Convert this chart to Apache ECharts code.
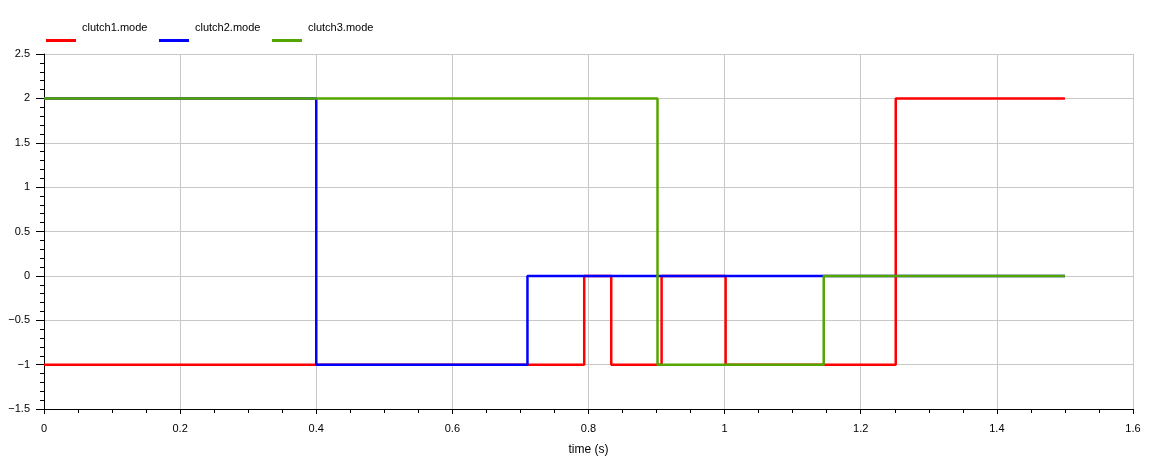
<!DOCTYPE html>
<html>
<head>
<meta charset="utf-8">
<script src="https://cdn.jsdelivr.net/npm/echarts@6/dist/echarts.min.js"></script>
<style>html,body{margin:0;padding:0;background:#fff;}#c{width:1149px;height:464px;}</style>
</head>
<body>
<div id="c"></div>
<script>
var seriesNames = ['clutch1.mode', 'clutch2.mode', 'clutch3.mode'];
var seriesColors = ['#ff0000', '#0000ff', '#55a500'];
var clutch1Time = [0, 0.7937, 0.8334, 0.9074, 1.0015, 1.2514, 1.5];
var clutch1Mode = [-1, 0, -1, 0, -1, 2, 2];
var clutch2Time = [0, 0.4, 0.7103, 1.5];
var clutch2Mode = [2, -1, 0, 0];
var clutch3Time = [0, 0.9014, 1.1456, 1.5];
var clutch3Mode = [2, -1, 0, 0];
var xTickLabels = ['0', '0.2', '0.4', '0.6', '0.8', '1', '1.2', '1.4', '1.6'];
var yTickLabels = ['−1.5', '−1', '−0.5', '0', '0.5', '1', '1.5', '2', '2.5'];

var times = [clutch1Time, clutch2Time, clutch3Time];
var modes = [clutch1Mode, clutch2Mode, clutch3Mode];
var font = '"Liberation Sans", Arial, sans-serif';
var legendLefts = [46, 159, 272];

var chart = echarts.init(document.getElementById('c'));
chart.setOption({
  animation: false,
  backgroundColor: '#fff',
  grid: { left: 44, right: 16, top: 54, bottom: 55 },
  legend: seriesNames.map(function (n, i) {
    return {
      data: [n], left: legendLefts[i], top: 22, icon: 'rect', itemWidth: 30, itemHeight: 3,
      itemGap: 0, padding: 0,
      formatter: function (name) { return '{n|' + name + '}\n{e| }'; },
      textStyle: { fontFamily: font, fontSize: 11, color: '#000',
        rich: { n: { fontFamily: font, fontSize: 11, color: '#000', lineHeight: 13, padding: [0, 0, 0, 1] },
                e: { fontSize: 11, lineHeight: 26 } } }
    };
  }),
  xAxis: {
    type: 'value', min: 0, max: 1.6, interval: 0.2,
    name: 'time (s)', nameLocation: 'middle', nameGap: 35,
    nameTextStyle: { fontFamily: font, fontSize: 12, color: '#000' },
    axisLine: { onZero: false, lineStyle: { color: '#000', width: 1 } },
    axisTick: { show: true, length: 5, lineStyle: { color: '#000' } },
    minorTick: { show: true, splitNumber: 4, length: 4, lineStyle: { color: '#000' } },
    axisLabel: { margin: 14, fontFamily: font, fontSize: 11, color: '#000',
      formatter: function (v) { return xTickLabels[Math.round(v / 0.2)]; } },
    splitLine: { show: true, lineStyle: { color: '#c8c8c8', width: 1 } }
  },
  yAxis: {
    type: 'value', min: -1.5, max: 2.5, interval: 0.5,
    axisLine: { show: true, onZero: false, lineStyle: { color: '#000', width: 1 } },
    axisTick: { show: true, length: 8, lineStyle: { color: '#000' } },
    minorTick: { show: true, splitNumber: 5, length: 4, lineStyle: { color: '#000' } },
    axisLabel: { margin: 14, fontFamily: font, fontSize: 11, color: '#000',
      formatter: function (v) { return yTickLabels[Math.round((v + 1.5) / 0.5)]; } },
    splitLine: { show: true, lineStyle: { color: '#c8c8c8', width: 1 } }
  },
  series: seriesNames.map(function (n, i) {
    return {
      name: n, type: 'line', step: 'end', showSymbol: false, symbol: 'none',
      color: seriesColors[i], z: 2 + i,
      lineStyle: { color: seriesColors[i], width: 2.5 },
      data: times[i].map(function (t, j) { return [t, modes[i][j]]; })
    };
  })
});
</script>
</body>
</html>
